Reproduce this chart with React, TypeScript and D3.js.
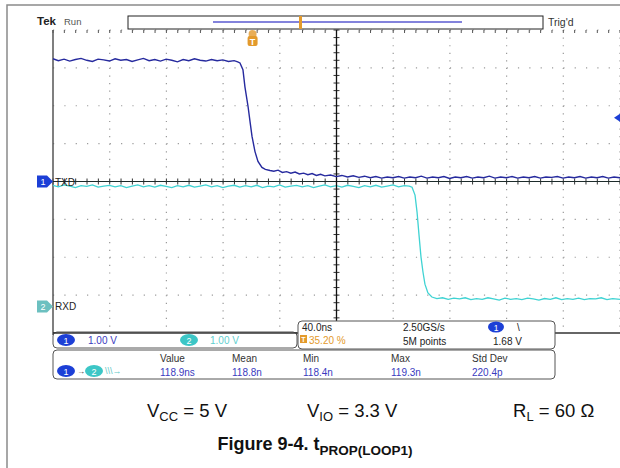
import React from "react";
import * as d3 from "d3";

// ---- data (time in ns relative to trigger, volts) ----
const timeDomain: [number, number] = [-140.8, 259.2]; // 40 ns/div, trigger at 35.2 %
const ch1Domain: [number, number] = [-4, 4]; // 1 V/div
const ch2Domain: [number, number] = [-0.7, 7.3]; // 1 V/div, offset

const ch1Points: [number, number][] = [
  [-140.8, 3.24], [-137, 3.19], [-133, 3.23], [-129, 3.18], [-125, 3.22], [-121, 3.25], [-117, 3.2], [-113, 3.17],
  [-109, 3.23], [-105, 3.21], [-101, 3.18], [-97, 3.24], [-93, 3.2], [-89, 3.22], [-85, 3.17], [-81, 3.21],
  [-77, 3.25], [-73, 3.19], [-69, 3.22], [-65, 3.18], [-61, 3.23], [-57, 3.2], [-53, 3.16], [-49, 3.22],
  [-45, 3.19], [-41, 3.24], [-37, 3.2], [-33, 3.18], [-29, 3.22], [-25, 3.19], [-21, 3.21], [-17, 3.17],
  [-13, 3.19], [-10.5, 3.16], [-8.9, 3.13], [-6.8, 2.95], [-5.4, 2.5], [-3.2, 1.98], [-1.8, 1.58], [-0.4, 1.19],
  [1.7, 0.79], [3.8, 0.53], [6.6, 0.37], [9, 0.32], [12.3, 0.29], [15, 0.27], [18, 0.3], [21, 0.24],
  [24, 0.26], [27, 0.22], [30, 0.25], [33, 0.2], [36, 0.22], [39, 0.18], [42, 0.21], [45, 0.16],
  [48, 0.19], [51, 0.15], [55, 0.17], [59, 0.13], [63, 0.16], [67, 0.12], [71, 0.15], [75, 0.11],
  [79, 0.14], [83, 0.1], [87, 0.13], [91, 0.09], [95, 0.12], [99, 0.1], [103, 0.13], [107, 0.09],
  [111, 0.12], [115, 0.1], [119, 0.14], [123, 0.09], [127, 0.12], [131, 0.1], [135, 0.13], [139, 0.08],
  [143, 0.12], [147, 0.1], [151, 0.13], [155, 0.09], [159, 0.12], [163, 0.1], [167, 0.14], [171, 0.09],
  [175, 0.12], [179, 0.1], [183, 0.13], [187, 0.09], [191, 0.12], [195, 0.1], [199, 0.13], [203, 0.09],
  [207, 0.12], [211, 0.11], [215, 0.13], [219, 0.09], [223, 0.12], [227, 0.1], [231, 0.13], [235, 0.09],
  [239, 0.12], [243, 0.1], [247, 0.13], [251, 0.09], [255, 0.12], [259.2, 0.1],
];

const ch2Points: [number, number][] = [
  [-140.8, 3.2], [-137, 3.16], [-133, 3.21], [-129, 3.18], [-125, 3.14], [-121, 3.19], [-117, 3.17], [-113, 3.21],
  [-109, 3.15], [-105, 3.18], [-101, 3.2], [-97, 3.16], [-93, 3.19], [-89, 3.14], [-85, 3.18], [-81, 3.21],
  [-77, 3.16], [-73, 3.19], [-69, 3.15], [-65, 3.2], [-61, 3.17], [-57, 3.14], [-53, 3.19], [-49, 3.16],
  [-45, 3.2], [-41, 3.15], [-37, 3.18], [-33, 3.21], [-29, 3.16], [-25, 3.19], [-21, 3.14], [-17, 3.18],
  [-13, 3.2], [-9, 3.15], [-5, 3.19], [-1, 3.16], [3, 3.2], [7, 3.14], [11, 3.18], [15, 3.16],
  [19, 3.21], [23, 3.15], [27, 3.18], [31, 3.2], [35, 3.16], [39, 3.19], [43, 3.14], [47, 3.18],
  [51, 3.21], [55, 3.16], [59, 3.19], [63, 3.15], [67, 3.2], [71, 3.17], [75, 3.14], [79, 3.19],
  [83, 3.16], [87, 3.2], [91, 3.15], [95, 3.18], [99, 3.21], [103, 3.16], [107, 3.19], [110.5, 3.18],
  [112.5, 3.15], [114.6, 2.94], [116, 2.5], [117.4, 1.89], [118.8, 1.31], [120.2, 0.91], [121.6, 0.59], [123.7, 0.36],
  [126.5, 0.25], [130, 0.21], [134, 0.23], [138, 0.19], [142, 0.22], [146, 0.2], [150, 0.23], [154, 0.18],
  [158, 0.21], [162, 0.19], [166, 0.23], [170, 0.2], [174, 0.17], [178, 0.22], [182, 0.19], [186, 0.21],
  [190, 0.18], [194, 0.22], [198, 0.2], [202, 0.17], [206, 0.21], [210, 0.19], [214, 0.23], [218, 0.18],
  [222, 0.21], [226, 0.19], [230, 0.22], [234, 0.18], [238, 0.21], [242, 0.2], [246, 0.23], [250, 0.18],
  [254, 0.21], [259.2, 0.19],
];

const triggerLevel = 1.68;
const scaleLabels = ["1.00 V", "1.00 V"];
const timebase = ["40.0ns", "2.50GS/s", "5M points", "35.20 %", "1.68 V"];
const measHeaders = ["Value", "Mean", "Min", "Max", "Std Dev"];
const measValues = ["118.9ns", "118.8n", "118.4n", "119.3n", "220.4p"];
const conditions = ["CC", "= 5 V", "IO", "= 3.3 V", "L", "= 60 Ω"];

// ---- layout ----
const GX0 = 53, GX1 = 620, GY0 = 30, GY1 = 333;
const BLUE = "#262a9e";
const BLUE_BADGE = "#1c3fd6";
const CYAN = "#3fd3d3";
const CYAN_BADGE = "#3cc6c6";
const ORANGE = "#e39a2c";
const SCOPE_FONT = "'Liberation Sans', Arial, sans-serif";
const DOC_FONT = "'Liberation Sans', Arial, sans-serif";

export default function App() {
  const x = d3.scaleLinear().domain(timeDomain).range([GX0, GX1]);
  const y1 = d3.scaleLinear().domain(ch1Domain).range([GY1, GY0]);
  const y2 = d3.scaleLinear().domain(ch2Domain).range([GY1, GY0]);
  const line1 = d3.line<[number, number]>().x((d) => x(d[0])).y((d) => y1(d[1]));
  const line2 = d3.line<[number, number]>().x((d) => x(d[0])).y((d) => y2(d[1]));

  const xDivs = d3.range(0, 11).map((i) => timeDomain[0] + i * 40);
  const yDivs = d3.range(-4, 5);
  const xMinor = d3.range(0, 51).map((i) => timeDomain[0] + i * 8);
  const yMinor = d3.range(0, 41).map((i) => -4 + i * 0.2);
  const xc = x(timeDomain[0] + 200);
  const yc = y1(0);
  const trigX = x(0);

  const tf = { fontFamily: SCOPE_FONT, fontSize: 10 };

  return (
    <svg width={620} height={468} style={{ position: "absolute", left: 0, top: 0, background: "#fff" }}>
      <rect x={7} y={5} width={640} height={480} fill="#fff" stroke="#8a8a8a" strokeWidth={1.5} />

      {/* graticule dotted lines */}
      {xDivs.slice(1).map((t, i) => (
        <line key={"vx" + i} x1={x(t)} x2={x(t)} y1={GY0} y2={GY1} stroke="#9a9a9a" strokeWidth={1.2}
          strokeDasharray={`1.2 ${(GY1 - GY0) / 40 - 1.2}`} />
      ))}
      {yDivs.slice(1).map((v, i) => (
        <line key={"hy" + i} x1={GX0} x2={GX1} y1={y1(v)} y2={y1(v)} stroke="#9a9a9a" strokeWidth={1.2}
          strokeDasharray={`1.2 ${(GX1 - GX0) / 50 - 1.2}`} />
      ))}
      {/* top ticks */}
      {xMinor.map((t, i) => (
        <line key={"tt" + i} x1={x(t)} x2={x(t)} y1={GY0} y2={GY0 + 3} stroke="#555" strokeWidth={1} />
      ))}
      {/* center cross ticks */}
      {xMinor.map((t, i) => (
        <line key={"ct" + i} x1={x(t)} x2={x(t)} y1={yc - 3} y2={yc + 3} stroke="#333" strokeWidth={1} />
      ))}
      {yMinor.map((v, i) => (
        <line key={"cv" + i} x1={xc - 3} x2={xc + 3} y1={y1(v)} y2={y1(v)} stroke="#333" strokeWidth={1} />
      ))}
      <line x1={GX0} x2={GX0} y1={GY0} y2={GY1 + 2} stroke="#555" strokeWidth={1.5} />
      <line x1={GX0} x2={GX1} y1={GY1} y2={GY1} stroke="#333" strokeWidth={1.5} />

      {/* waveforms */}
      <path d={line2(ch2Points) ?? ""} fill="none" stroke={CYAN} strokeWidth={1.3} />
      <line x1={GX0} x2={GX1} y1={yc} y2={yc} stroke="#1d2b2b" strokeWidth={1.2} />
      <line x1={xc} x2={xc} y1={GY0} y2={GY1} stroke="#111" strokeWidth={1.3} />
      <path d={line1(ch1Points) ?? ""} fill="none" stroke={BLUE} strokeWidth={1.4} />

      {/* trigger level marker */}
      <path d={`M${GX1 - 6},${y1(triggerLevel)} L${GX1},${y1(triggerLevel) - 4} L${GX1},${y1(triggerLevel) + 4} Z`} fill={BLUE_BADGE} />

      {/* header */}
      <text x={37} y={25} fontFamily={SCOPE_FONT} fontSize={11.5} fontWeight="bold" fill="#222">Tek</text>
      <text x={64} y={25} fontFamily={SCOPE_FONT} fontSize={9.5} fill="#555">Run</text>
      <rect x={128} y={16} width={415} height={13} fill="#fff" stroke="#222" strokeWidth={1} />
      <line x1={213} x2={462} y1={22} y2={22} stroke="#5a5ad0" strokeWidth={1.5} />
      <rect x={299} y={16} width={3} height={13} fill={ORANGE} />
      <text x={548} y={26} fontFamily={SCOPE_FONT} fontSize={10.5} fill="#333">Trig'd</text>

      {/* trigger position marker */}
      <circle cx={trigX} cy={34} r={4} fill={ORANGE} opacity={0.8} />
      <rect x={trigX - 5} y={36} width={10} height={10} rx={2} fill={ORANGE} />
      <text x={trigX} y={44.5} textAnchor="middle" fontFamily={SCOPE_FONT} fontSize={9} fontWeight="bold" fill="#fff">T</text>

      {/* channel markers */}
      <path d={`M37,${yc - 6} L47,${yc - 6} L53,${yc} L47,${yc + 6} L37,${yc + 6} Z`} fill={BLUE_BADGE} />
      <text x={43} y={yc + 3.5} textAnchor="middle" fontFamily={SCOPE_FONT} fontSize={9} fill="#fff">1</text>
      <text x={55} y={yc + 4} fontFamily={SCOPE_FONT} fontSize={10} fill="#222">TXD</text>
      <path d={`M37,${y2(0) - 6} L47,${y2(0) - 6} L53,${y2(0)} L47,${y2(0) + 6} L37,${y2(0) + 6} Z`} fill="#6cc0c0" />
      <text x={43} y={y2(0) + 3.5} textAnchor="middle" fontFamily={SCOPE_FONT} fontSize={9} fill="#fff">2</text>
      <text x={55} y={y2(0) + 4} fontFamily={SCOPE_FONT} fontSize={10} fill="#222">RXD</text>

      {/* readout box 1 */}
      <rect x={53} y={332} width={244} height={16} rx={4} fill="#fff" stroke="#555" strokeWidth={1} />
      <line x1={GX0} x2={297} y1={GY1} y2={GY1} stroke="#333" strokeWidth={1.5} />
      <ellipse cx={66} cy={340} rx={9} ry={6} fill={BLUE_BADGE} />
      <text x={66} y={343.5} textAnchor="middle" {...tf} fontSize={9} fill="#fff">1</text>
      <text x={88} y={344} {...tf} fill="#3a3ac0">{scaleLabels[0]}</text>
      <ellipse cx={189} cy={340} rx={9} ry={6} fill={CYAN_BADGE} />
      <text x={189} y={343.5} textAnchor="middle" {...tf} fontSize={9} fill="#fff">2</text>
      <text x={210} y={344} {...tf} fill="#5fd0d0">{scaleLabels[1]}</text>

      {/* readout box 2 */}
      <rect x={298} y={321} width={257} height={28} rx={4} fill="#fff" stroke="#555" strokeWidth={1} />
      <text x={302} y={331} {...tf} fill="#222">{timebase[0]}</text>
      <rect x={300} y={335} width={7} height={8} fill={ORANGE} />
      <text x={303.5} y={342} textAnchor="middle" {...tf} fontSize={7} fontWeight="bold" fill="#fff">T</text>
      <text x={309} y={344} {...tf} fill={ORANGE}>{timebase[3]}</text>
      <text x={403} y={331} {...tf} fill="#222">{timebase[1]}</text>
      <text x={403} y={345} {...tf} fill="#222">{timebase[2]}</text>
      <ellipse cx={496} cy={327} rx={8} ry={5.5} fill={BLUE_BADGE} />
      <text x={496} y={330.5} textAnchor="middle" {...tf} fontSize={8.5} fill="#fff">1</text>
      <text x={517} y={331} {...tf} fill="#222">\</text>
      <text x={493} y={345} {...tf} fill="#222">{timebase[4]}</text>

      {/* measurement box */}
      <rect x={53} y={350} width={502} height={29} rx={4} fill="#fff" stroke="#555" strokeWidth={1} />
      <ellipse cx={66} cy={371} rx={9} ry={6} fill={BLUE_BADGE} />
      <text x={66} y={374.5} textAnchor="middle" {...tf} fontSize={9} fill="#fff">1</text>
      <text x={77} y={374} {...tf} fontSize={8} fill="#333">→</text>
      <ellipse cx={94} cy={371} rx={9} ry={6} fill={CYAN_BADGE} />
      <text x={94} y={374.5} textAnchor="middle" {...tf} fontSize={9} fill="#fff">2</text>
      <text x={105} y={374} {...tf} fontSize={9} fill="#5fc8c8">{"\\\\\\→"}</text>
      {measHeaders.map((h, i) => (
        <text key={"mh" + i} x={[160, 232, 303, 391, 472][i]} y={362} {...tf} fill="#333">{h}</text>
      ))}
      {measValues.map((v, i) => (
        <text key={"mv" + i} x={[160, 232, 303, 391, 472][i]} y={376} {...tf} fill="#3a3ac0">{v}</text>
      ))}

      {/* conditions */}
      <text x={147} y={417} fontFamily={DOC_FONT} fontSize={18.5} fill="#111">
        V<tspan fontSize={13} dy={4}>{conditions[0]}</tspan><tspan dy={-4}> {conditions[1]}</tspan>
      </text>
      <text x={307} y={417} fontFamily={DOC_FONT} fontSize={18.5} fill="#111">
        V<tspan fontSize={13} dy={4}>{conditions[2]}</tspan><tspan dy={-4}> {conditions[3]}</tspan>
      </text>
      <text x={513} y={417} fontFamily={DOC_FONT} fontSize={18.5} fill="#111">
        R<tspan fontSize={13} dy={4}>{conditions[4]}</tspan><tspan dy={-4}> {conditions[5]}</tspan>
      </text>
      <text x={315} y={450} textAnchor="middle" fontFamily={DOC_FONT} fontSize={18} fontWeight="bold" fill="#111">
        Figure 9-4. t<tspan fontSize={13.5} dy={5}>PROP(LOOP1)</tspan>
      </text>
    </svg>
  );
}
